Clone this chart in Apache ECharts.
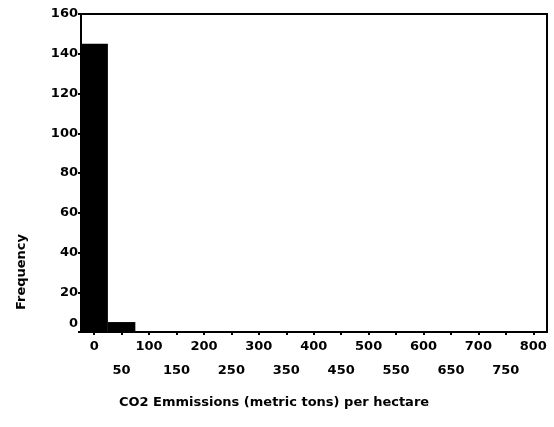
<!DOCTYPE html>
<html>
<head>
<meta charset="utf-8">
<script src="https://cdn.jsdelivr.net/npm/echarts@6/dist/echarts.min.js"></script>
<style>
  html, body { margin: 0; padding: 0; background: #fff; }
  #chart { width: 554px; height: 427px; }
</style>
</head>
<body>
<div id="chart"></div>
<script>
// Histogram of CO2 emissions per hectare (bins 50 wide, centred on the values below)
const binCenters = [0, 50, 100, 150, 200, 250, 300, 350, 400, 450, 500, 550, 600, 650, 700, 750, 800];
const frequencies = [145, 5, 0, 0, 0, 0, 0, 0, 0, 0, 0, 0, 0, 0, 0, 0, 0];
const binWidth = 50;
const yTicks = [0, 20, 40, 60, 80, 100, 120, 140, 160];
const xTitle = 'CO2 Emmissions (metric tons) per hectare';
const yTitle = 'Frequency';

const FONT = '"DejaVu Sans", sans-serif';
const chart = echarts.init(document.getElementById('chart'), null, { renderer: 'canvas' });

const histData = binCenters.map((c, i) => [c, frequencies[i]]);

chart.setOption({
  animation: false,
  backgroundColor: '#fff',
  grid: {
    left: 81, top: 14, right: 7, bottom: 95,
    show: true, borderColor: '#000', borderWidth: 2, backgroundColor: 'transparent'
  },
  xAxis: {
    type: 'value',
    min: -24,
    max: 825,
    splitNumber: 17,
    splitLine: { show: false },
    axisLine: { show: true, onZero: false, lineStyle: { color: '#000', width: 2 } },
    axisTick: { show: true, inside: false, length: 3, lineStyle: { color: '#000', width: 2 } },
    axisLabel: {
      showMinLabel: false,
      showMaxLabel: false,
      margin: 3,
      color: '#000',
      fontFamily: FONT,
      fontWeight: 'bold',
      fontSize: 13,
      lineHeight: 24,
      formatter: v => {
        if (v % 100 === 0) return String(v);
        if (v % 50 === 0) return '\n' + v;
        return '';
      }
    }
  },
  yAxis: {
    type: 'value',
    min: yTicks[0],
    max: yTicks[yTicks.length - 1],
    interval: 20,
    splitLine: { show: false },
    axisLine: { show: true, onZero: false, lineStyle: { color: '#000', width: 2 } },
    axisTick: { show: true, inside: false, length: 3, lineStyle: { color: '#000', width: 2 } },
    axisLabel: {
      margin: 3,
      color: '#000',
      fontFamily: FONT,
      fontWeight: 'bold',
      fontSize: 13,
      formatter: v => (v === 0 ? '{z|0}' : String(v)),
      rich: {
        z: { padding: [0, 0, 16, 0], fontFamily: FONT, fontWeight: 'bold', fontSize: 13, color: '#000' }
      }
    }
  },
  series: [{
    type: 'custom',
    data: histData,
    renderItem: (params, api) => {
      const c = api.value(0);
      const f = api.value(1);
      const p0 = api.coord([c - binWidth / 2, f]);
      const p1 = api.coord([c + binWidth / 2, 0]);
      return {
        type: 'rect',
        shape: { x: p0[0], y: p0[1], width: p1[0] - p0[0], height: p1[1] - p0[1] },
        style: { fill: '#000' }
      };
    },
    encode: { x: 0, y: 1 }
  }],
  graphic: [
    {
      type: 'text',
      x: 274, y: 403,
      style: { text: xTitle, fill: '#000', font: 'bold 13px ' + FONT, align: 'center', verticalAlign: 'middle' }
    },
    {
      type: 'text',
      x: 22, y: 272,
      rotation: Math.PI / 2,
      style: { text: yTitle, fill: '#000', font: 'bold 13px ' + FONT, align: 'center', verticalAlign: 'middle' }
    }
  ]
});
</script>
</body>
</html>
